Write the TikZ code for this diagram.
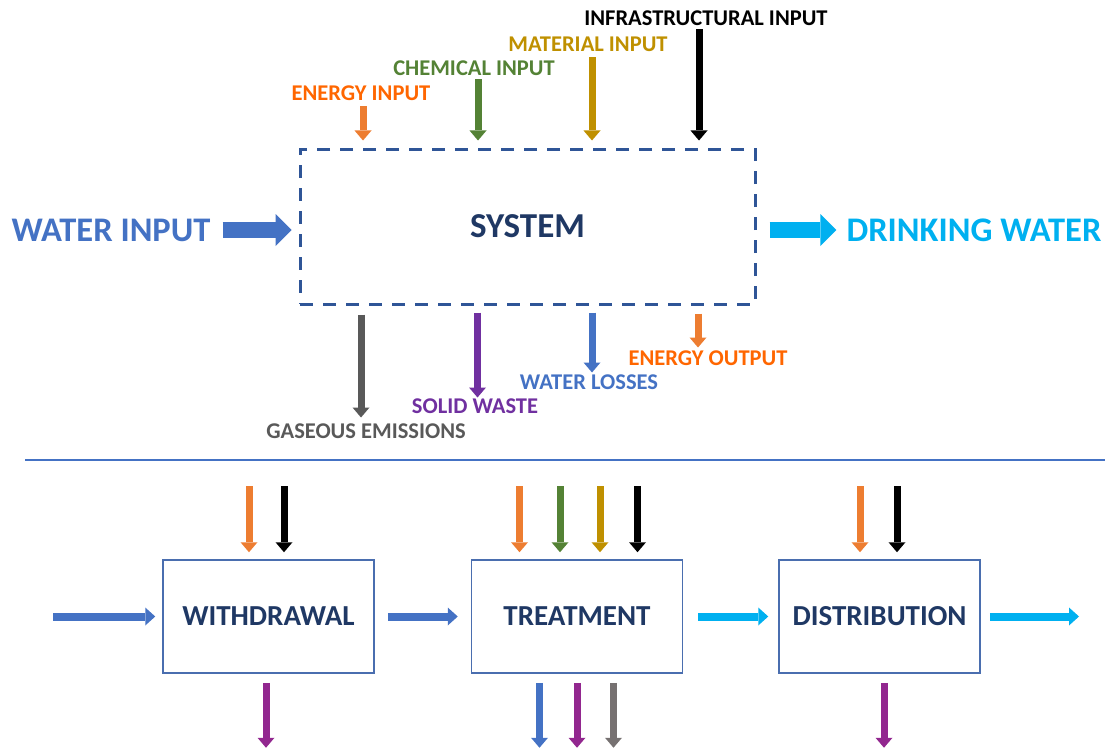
\documentclass[tikz,border=0pt]{standalone}
\usepackage{fontspec}
\setmainfont{Carlito}
\usetikzlibrary{positioning,arrows.meta}

\definecolor{waterblue}{HTML}{4472C4}
\definecolor{drinkblue}{HTML}{00B0F0}
\definecolor{navy}{HTML}{1F3864}
\definecolor{dashblue}{HTML}{2F5597}
\definecolor{stageline}{HTML}{4A6EAF}
\definecolor{energyarrow}{HTML}{ED7D31}
\definecolor{energytext}{HTML}{FF6600}
\definecolor{chemgreen}{HTML}{548235}
\definecolor{matgold}{HTML}{BF9000}
\definecolor{gasgray}{HTML}{595959}
\definecolor{stagegray}{HTML}{767171}
\definecolor{wastepurple}{HTML}{7030A0}
\definecolor{stagepurple}{HTML}{92278F}

\begin{document}
\begin{tikzpicture}[
  x=1pt, y=-1pt,
  font=\bfseries,
  flowlabel/.style={font=\fontsize{22.5}{26}\selectfont\bfseries, inner sep=0pt},
  bigtext/.style={font=\fontsize{34.5}{40}\selectfont\bfseries, inner sep=0pt},
  system/.style={draw=dashblue, line width=3pt, dash pattern=on 13pt off 10pt, minimum width=455pt, minimum height=155pt, text=navy, font=\fontsize{35}{40}\selectfont\bfseries},
  stage/.style={draw=stageline, line width=1.5pt, minimum width=211pt, minimum height=113pt, text=navy, font=\fontsize{29}{34}\selectfont\bfseries},
  bigarrow/.style={line width=16pt, -{Triangle[width=32pt, length=16pt, line width=0pt]}},
  thinarrow/.style={line width=7pt, -{Triangle[width=17pt, length=10pt, line width=0pt]}},
  flowarrow/.style={line width=8pt, -{Triangle[width=18pt, length=10pt, line width=0pt]}}
]
\useasboundingbox (0,0) rectangle (1105,749);

% System
\node[system] (sys) at (527.5,226.5) {SYSTEM};

% Water Input, Drinking Water
\node[bigtext, text=waterblue] (win) at (111,230) {WATER INPUT};
\node[bigtext, text=drinkblue] (dw) at (974,230) {DRINKING WATER};
\draw[bigarrow, waterblue, shorten <=12pt, shorten >=7pt] (win.east) -- (win.east -| sys.west);
\draw[bigarrow, drinkblue, shorten <=13pt, shorten >=10pt] (sys.east |- dw.west) -- (dw.west);

% Inputs
\node[flowlabel, text=energytext] (ein) at (361,93) {ENERGY INPUT};
\node[flowlabel, text=chemgreen] (cin) at (474,68) {CHEMICAL INPUT};
\node[flowlabel, text=matgold] (min) at (588,44) {MATERIAL INPUT};
\node[flowlabel] (iin) at (706,18) {INFRASTRUCTURAL INPUT};
\draw[thinarrow, energyarrow] ([shift={(-164.5,-41)}]sys.north) -- ++(0,34);
\draw[thinarrow, chemgreen] ([shift={(-49.5,-68)}]sys.north) -- ++(0,61);
\draw[thinarrow, matgold] ([shift={(64.5,-90)}]sys.north) -- ++(0,83);
\draw[thinarrow, black] ([shift={(171.5,-118)}]sys.north) -- ++(0,111);

% Outputs
\node[flowlabel, text=gasgray] (gas) at (366,431) {GASEOUS EMISSIONS};
\node[flowlabel, text=wastepurple] (waste) at (475,406) {SOLID WASTE};
\node[flowlabel, text=waterblue] (loss) at (589,382) {WATER LOSSES};
\node[flowlabel, text=energytext] (eout) at (708,358) {ENERGY OUTPUT};
\draw[thinarrow, gasgray] ([shift={(-166.5,9)}]sys.south) -- ++(0,103);
\draw[thinarrow, wastepurple] ([shift={(-50,7)}]sys.south) -- ++(0,85);
\draw[thinarrow, waterblue] ([shift={(64.5,7)}]sys.south) -- ++(0,60);
\draw[thinarrow, energyarrow] ([shift={(170.5,8)}]sys.south) -- ++(0,34);

% Separator
\draw[waterblue, line width=1.2pt] (25,460) -- (1105,460);

% Withdrawal, Treatment, Distribution
\node[stage] (withdrawal) at (268.5,616.5) {WITHDRAWAL};
\node[stage, right=96pt of withdrawal] (treatment) {TREATMENT};
\node[stage, right=95pt of treatment, minimum width=201pt] (distribution) {DISTRIBUTION};

% Flow between stages
\coordinate (source) at (53,616.5);
\coordinate (sink) at (1079,616.5);
\draw[flowarrow, waterblue, shorten >=7pt] (source) -- (withdrawal);
\draw[flowarrow, waterblue, shorten <=13pt, shorten >=13pt] (withdrawal) -- (treatment);
\draw[flowarrow, drinkblue, shorten <=15pt, shorten >=10pt] (treatment) -- (distribution);
\draw[flowarrow, drinkblue, shorten <=9pt] (distribution) -- (sink);

% Withdrawal inputs and outputs
\draw[thinarrow, energyarrow] ([shift={(-19.5,-73)}]withdrawal.north) -- ++(0,66);
\draw[thinarrow, black] ([shift={(15.5,-73)}]withdrawal.north) -- ++(0,66);
\draw[thinarrow, stagepurple] ([shift={(-2.5,9)}]withdrawal.south) -- ++(0,65);

% Treatment inputs and outputs
\draw[thinarrow, energyarrow] ([shift={(-57.5,-73)}]treatment.north) -- ++(0,66);
\draw[thinarrow, chemgreen] ([shift={(-17,-73)}]treatment.north) -- ++(0,66);
\draw[thinarrow, matgold] ([shift={(23,-73)}]treatment.north) -- ++(0,66);
\draw[thinarrow, black] ([shift={(60.5,-73)}]treatment.north) -- ++(0,66);
\draw[thinarrow, waterblue] ([shift={(-37.5,9)}]treatment.south) -- ++(0,65);
\draw[thinarrow, stagepurple] ([shift={(0,9)}]treatment.south) -- ++(0,65);
\draw[thinarrow, stagegray] ([shift={(36.5,9)}]treatment.south) -- ++(0,65);

% Distribution inputs and outputs
\draw[thinarrow, energyarrow] ([shift={(-19.5,-73)}]distribution.north) -- ++(0,66);
\draw[thinarrow, black] ([shift={(17.5,-73)}]distribution.north) -- ++(0,66);
\draw[thinarrow, stagepurple] ([shift={(4.5,9)}]distribution.south) -- ++(0,65);

\end{tikzpicture}
\end{document}
